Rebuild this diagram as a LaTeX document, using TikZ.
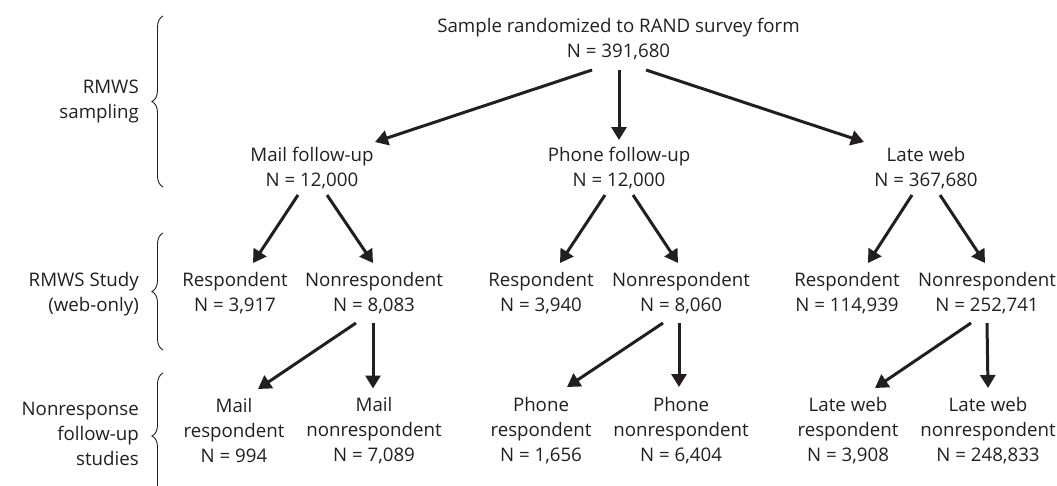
\documentclass[tikz,border=0pt]{standalone}
\usepackage{fontspec}
\setmainfont{Open Sans}
\usetikzlibrary{arrows.meta,decorations.pathreplacing}
\definecolor{tinta}{HTML}{231F20}

\begin{document}
\begin{tikzpicture}[x=1pt,y=-1pt,
        caja/.style={align=center,text=tinta,inner sep=0pt,font=\fontsize{18.7}{25}\selectfont},
        rotulo/.style={caja,align=right,anchor=east},
        flecha/.style={draw=tinta,line width=3pt,-{Triangle[length=13pt,width=15pt]}},
        llave/.style={draw=tinta,line width=0.9pt,decorate,decoration={brace,amplitude=11pt}}]
        \useasboundingbox (0,0) rectangle (1057,485);

        % Paso 1: Define la muestra inicial
        \node[caja] (S) at (618.5,39) {Sample randomized to RAND survey form\\N = 391,680};

        % Paso 2: Define los tres seguimientos
        \node[caja] (M) at (312,168.5) {Mail follow-up\\N = 12,000};
        \node[caja] (P) at (619,168.5) {Phone follow-up\\N = 12,000};
        \node[caja] (L) at (926,168.5) {Late web\\N = 367,680};

        % Paso 3: Define respondentes y no respondentes
        \node[caja] (MR) at (235,293.5) {Respondent\\N = 3,917};
        \node[caja] (MN) at (374,293.5) {Nonrespondent\\N = 8,083};
        \node[caja] (PR) at (541,293.5) {Respondent\\N = 3,940};
        \node[caja] (PN) at (681,293.5) {Nonrespondent\\N = 8,060};
        \node[caja] (LR) at (847,293.5) {Respondent\\N = 114,939};
        \node[caja] (LN) at (987,293.5) {Nonrespondent\\N = 252,741};

        % Paso 4: Define los estudios de no respuesta
        \node[caja] (MNR) at (234,430.5) {Mail\\respondent\\N = 994};
        \node[caja] (MNN) at (374,430.5) {Mail\\nonrespondent\\N = 7,089};
        \node[caja] (PNR) at (541,430.5) {Phone\\respondent\\N = 1,656};
        \node[caja] (PNN) at (681,430.5) {Phone\\nonrespondent\\N = 6,404};
        \node[caja] (LNR) at (848,430.5) {Late web\\respondent\\N = 3,908};
        \node[caja] (LNN) at (988,430.5) {Late web\\nonrespondent\\N = 248,833};

        % Paso 5: Dibuja las flechas
        \draw[flecha] ([shift={(-26.5,31)}]S.center) -- ([shift={(63,-26.5)}]M.center);
        \draw[flecha] ([shift={(0.5,31)}]S.center) -- ([shift={(0,-28.5)}]P.center);
        \draw[flecha] ([shift={(27.5,31)}]S.center) -- ([shift={(-62,-26.5)}]L.center);
        \draw[flecha] ([shift={(-14,26.5)}]M.center) -- ([shift={(18,-30.5)}]MR.center);
        \draw[flecha] ([shift={(15,26.5)}]M.center) -- ([shift={(-1,-30.5)}]MN.center);
        \draw[flecha] ([shift={(-14,26.5)}]P.center) -- ([shift={(19,-30.5)}]PR.center);
        \draw[flecha] ([shift={(14,26.5)}]P.center) -- ([shift={(-3,-30.5)}]PN.center);
        \draw[flecha] ([shift={(-14,26.5)}]L.center) -- ([shift={(21,-30.5)}]LR.center);
        \draw[flecha] ([shift={(14,26.5)}]L.center) -- ([shift={(-2,-30.5)}]LN.center);
        \draw[flecha] ([shift={(-18,29.5)}]MN.center) -- ([shift={(24,-41.5)}]MNR.center);
        \draw[flecha] ([shift={(-1,29.5)}]MN.center) -- ([shift={(-1,-42)}]MNN.center);
        \draw[flecha] ([shift={(-18,29.5)}]PN.center) -- ([shift={(26,-43.5)}]PNR.center);
        \draw[flecha] ([shift={(-2,29.5)}]PN.center) -- ([shift={(-2,-43.5)}]PNN.center);
        \draw[flecha] ([shift={(-16,29.5)}]LN.center) -- ([shift={(27,-42.5)}]LNR.center);
        \draw[flecha] ([shift={(0,29.5)}]LN.center) -- ([shift={(0,-42.5)}]LNN.center);

        % Paso 6: Dibuja las llaves y sus rótulos
        \draw[llave] (163,187) -- (163,16);
        \draw[llave] (163,350) -- (163,233);
        \draw[llave] (163,499) -- (163,373);
        \node[rotulo] (T1) at (139,101.5) {RMWS\\sampling};
        \node[rotulo] (T2) at (139,294.5) {RMWS Study\\(web-only)};
        \node[rotulo] (T3) at (139,434) {Nonresponse\\follow-up\\studies};
\end{tikzpicture}
\end{document}
